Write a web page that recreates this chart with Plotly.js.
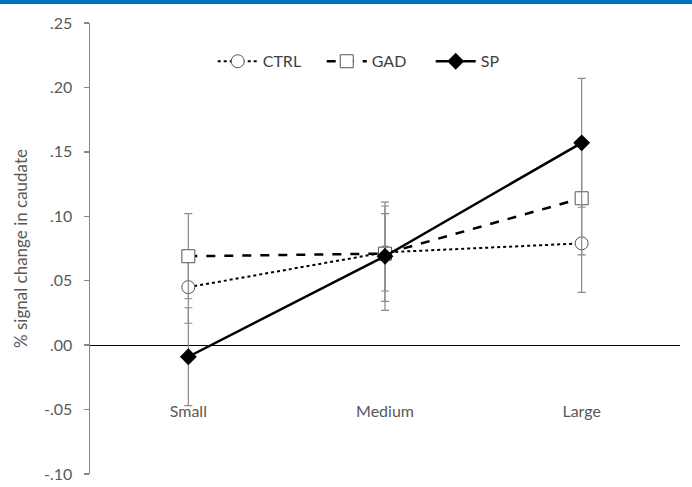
<!DOCTYPE html>
<html>
<head>
<meta charset="utf-8">
<script src="https://cdn.plot.ly/plotly-3.0.1.min.js"></script>
<style>
  html, body { margin: 0; padding: 0; background: #fff; }
  #bar { width: 692px; height: 4px; background: #0070C0; }
  #chart { width: 692px; height: 483px; }
</style>
</head>
<body>
<div id="bar"></div>
<div id="chart"></div>
<script>
// Data
const categories = ["Small", "Medium", "Large"];
const ctrlValues = [0.045, 0.072, 0.079];
const ctrlErrors = [0.028, 0.030, 0.038];
const gadValues  = [0.069, 0.071, 0.114];
const gadErrors  = [0.033, 0.037, 0.044];
const spValues   = [-0.009, 0.069, 0.157];
const spErrors   = [0.038, 0.042, 0.050];
const yTickVals  = [-0.10, -0.05, 0.00, 0.05, 0.10, 0.15, 0.20, 0.25];
const yTickText  = ["-.10", "-.05", ".00", ".05", ".10", ".15", ".20", ".25"];

const errStyle = (arr) => ({
  type: 'data', array: arr, visible: true,
  color: '#8a8a8a', thickness: 1.2, width: 4
});

const traces = [
  {
    name: 'CTRL', x: categories, y: ctrlValues, type: 'scatter', mode: 'lines+markers',
    line: { color: '#000', width: 2, dash: 'dot' },
    marker: { symbol: 'circle', size: 13, color: '#fff', line: { color: '#555', width: 1 } },
    error_y: errStyle(ctrlErrors)
  },
  {
    name: 'GAD', x: categories, y: gadValues, type: 'scatter', mode: 'lines+markers',
    line: { color: '#000', width: 2.5, dash: 'dash' },
    marker: { symbol: 'square', size: 13, color: '#fff', line: { color: '#555', width: 1 } },
    error_y: errStyle(gadErrors)
  },
  {
    name: 'SP', x: categories, y: spValues, type: 'scatter', mode: 'lines+markers',
    line: { color: '#000', width: 2.5 },
    marker: { symbol: 'diamond', size: 13, color: '#000', line: { color: '#000', width: 0 } },
    error_y: errStyle(spErrors)
  }
];

const fam = 'Lato, "Open Sans", sans-serif';
const tickFont = { family: fam, size: 16, color: '#595959' };

const layout = {
  width: 692, height: 483,
  margin: { l: 90, r: 12, t: 19, b: 13, autoexpand: false },
  paper_bgcolor: '#fff', plot_bgcolor: '#fff',
  font: tickFont,
  showlegend: true,
  legend: {
    orientation: 'h', x: 0.208, xanchor: 'left', y: 0.915, yanchor: 'middle',
    font: { family: fam, size: 16, color: '#404040' },
    bgcolor: 'rgba(0,0,0,0)', itemwidth: 40, entrywidth: 54, traceorder: 'normal'
  },
  xaxis: {
    type: 'category', range: [-0.5, 2.5],
    anchor: 'free', position: 0.165,
    showline: false, showgrid: false, zeroline: false,
    ticks: '', tickfont: tickFont, fixedrange: true
  },
  yaxis: {
    range: [-0.10, 0.25], tickvals: yTickVals, ticktext: yTickText,
    showline: true, linecolor: '#868686', linewidth: 1.5,
    ticks: 'outside', ticklen: 5, tickcolor: '#868686', tickwidth: 1.5,
    showgrid: false, zeroline: true, zerolinecolor: '#000', zerolinewidth: 1.2,
    tickfont: tickFont, ticklabelstandoff: 8,
    title: { text: '% signal change in caudate', font: { family: fam, size: 17, color: '#595959' }, standoff: 12 }
  }
};

Plotly.newPlot('chart', traces, layout, { displayModeBar: false, staticPlot: true });
</script>
</body>
</html>
